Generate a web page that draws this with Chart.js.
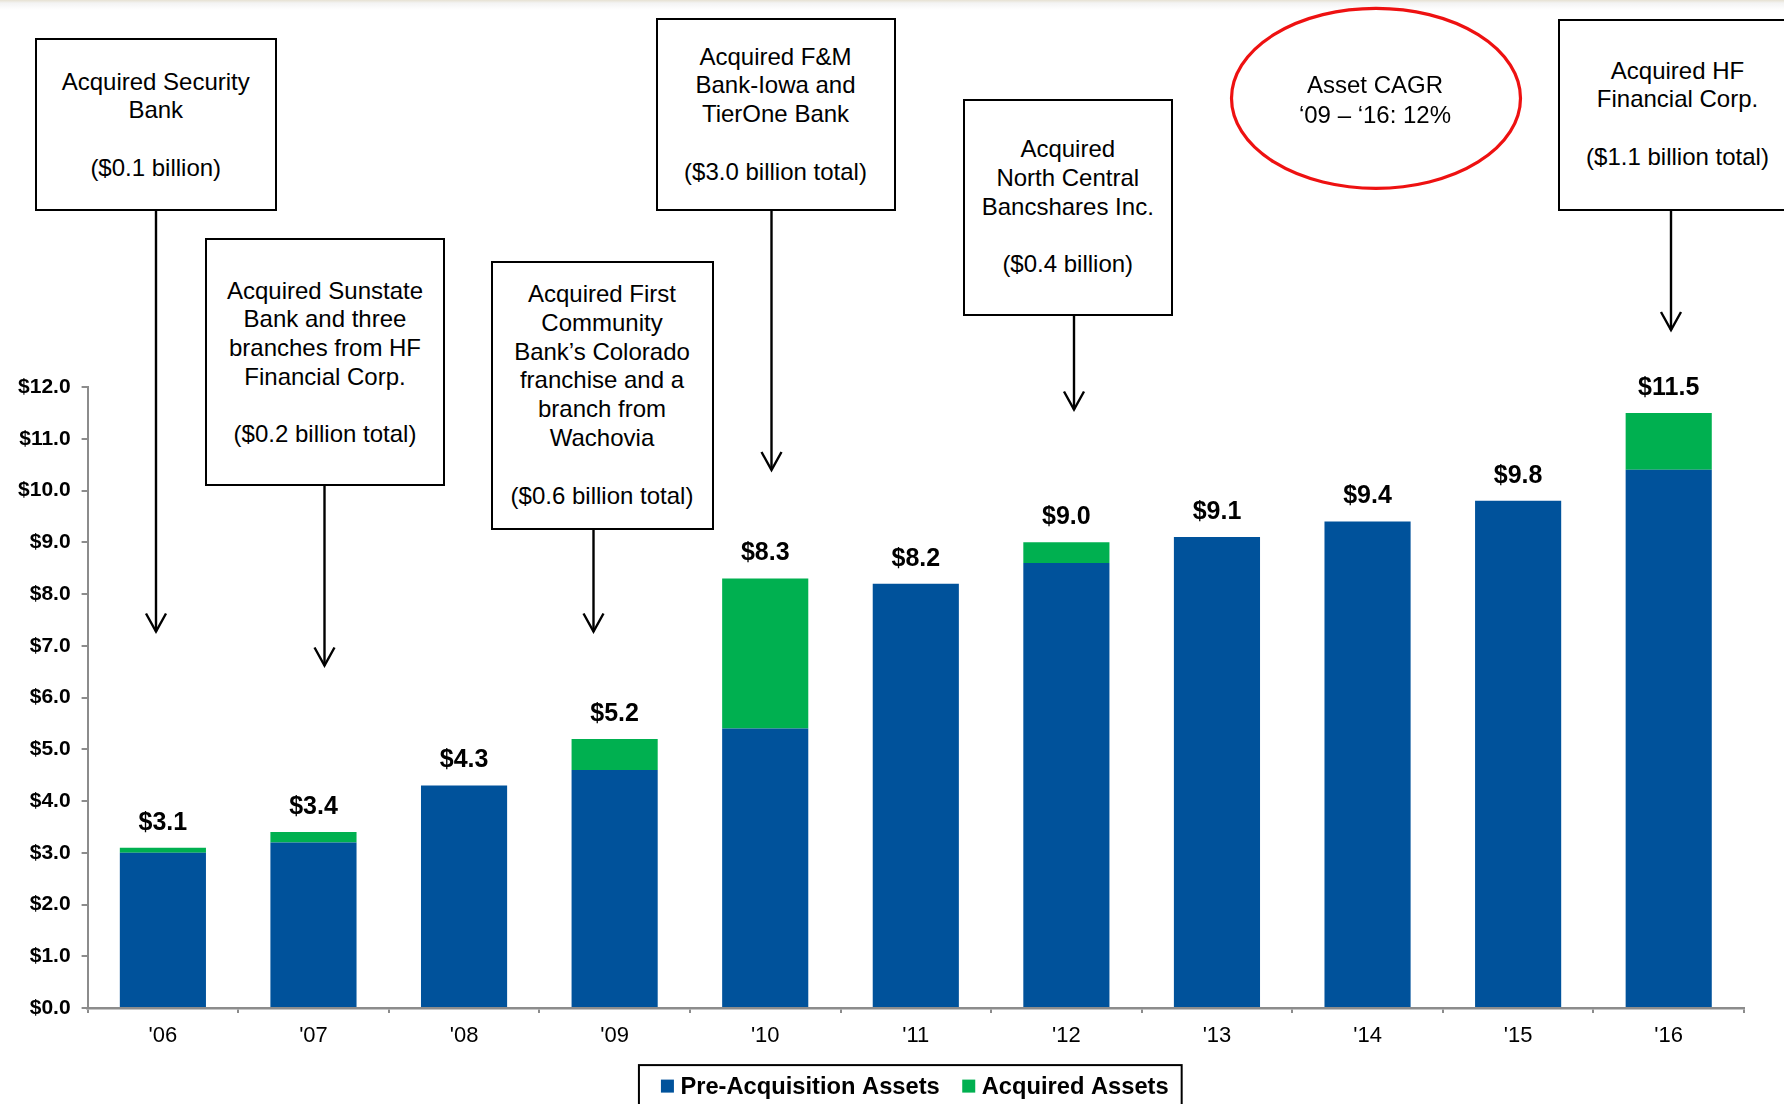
<!DOCTYPE html>
<html><head><meta charset="utf-8">
<script src="https://cdn.jsdelivr.net/npm/chart.js@4.4.0/dist/chart.umd.min.js"></script>
<style>
html,body{margin:0;padding:0;background:#fff;width:1784px;height:1104px;overflow:hidden;font-family:"Liberation Sans",Arial,sans-serif;}
#wrap{position:relative;width:1784px;height:1104px;overflow:hidden;}
#c{position:absolute;left:0;top:0;}
.topband{position:absolute;left:0;top:0;width:1784px;height:10px;background:linear-gradient(#e6e1d2 0,#f3f3f3 30%,#fff 100%);}
.box{position:absolute;box-sizing:border-box;border:2.5px solid #000;background:#fff;text-align:center;font-size:24px;line-height:28.8px;color:#000;white-space:nowrap;}
.ell{position:absolute;text-align:center;font-size:24px;line-height:29.5px;color:#000;white-space:nowrap;}
svg{position:absolute;left:0;top:0;}
</style>
</head><body>
<div id="wrap">
<canvas id="c" width="1784" height="1104"></canvas>
<div class="topband"></div>
<svg width="1784" height="1104" id="ov"></svg>
<div class="box" style="left:35px;top:37.5px;width:241.5px;height:173px;padding-top:28px">Acquired Security<br>Bank<br><br>($0.1 billion)</div>
<div class="box" style="left:205px;top:238px;width:240px;height:248px;padding-top:36.5px">Acquired Sunstate<br>Bank and three<br>branches from HF<br>Financial Corp.<br><br>($0.2 billion total)</div>
<div class="box" style="left:490.5px;top:260.5px;width:223px;height:269px;padding-top:17.5px">Acquired First<br>Community<br>Bank’s Colorado<br>franchise and a<br>branch from<br>Wachovia<br><br>($0.6 billion total)</div>
<div class="box" style="left:655.5px;top:18px;width:240px;height:192.5px;padding-top:22.5px">Acquired F&amp;M<br>Bank-Iowa and<br>TierOne Bank<br><br>($3.0 billion total)</div>
<div class="box" style="left:962.5px;top:99px;width:210.5px;height:216.5px;padding-top:34px">Acquired<br>North Central<br>Bancshares Inc.<br><br>($0.4 billion)</div>
<div class="box" style="left:1557.5px;top:19px;width:240px;height:192px;padding-top:35.5px">Acquired HF<br>Financial Corp.<br><br>($1.1 billion total)</div>
<div class="ell" style="left:1275px;top:70px;width:200px">Asset CAGR<br>‘09 – ‘16: 12%</div>
</div>
<script>
const categories = ["'06","'07","'08","'09","'10","'11","'12","'13","'14","'15","'16"];
const preAcquisition = [3.0, 3.2, 4.3, 4.6, 5.4, 8.2, 8.6, 9.1, 9.4, 9.8, 10.4];
const acquired = [0.1, 0.2, 0, 0.6, 2.9, 0, 0.4, 0, 0, 0, 1.1];
const totalLabels = ['$3.1','$3.4','$4.3','$5.2','$8.3','$8.2','$9.0','$9.1','$9.4','$9.8','$11.5'];
const yTickLabels = ['$0.0','$1.0','$2.0','$3.0','$4.0','$5.0','$6.0','$7.0','$8.0','$9.0','$10.0','$11.0','$12.0'];
const seriesNames = ['Pre-Acquisition Assets','Acquired Assets'];
const seriesColors = ['#00529B','#00B050'];

const FONT = '"Liberation Sans", Arial, sans-serif';
const AXIS = '#8c8c8c';

// annotation arrows (x, y start, y end)
const arrows = [[156,210.5,631.5],[324.5,486,665.5],[593.5,529.5,631.5],[771.5,210.5,470],[1074,315.5,409.5],[1671,211,330]];
(function(){
  const svg = document.getElementById('ov');
  let s = '';
  arrows.forEach(a => {
    const [x,y1,y2] = a;
    s += `<line x1="${x}" y1="${y1}" x2="${x}" y2="${y2}" stroke="#000" stroke-width="2.4"/>`;
    s += `<polyline points="${x-10},${y2-18} ${x},${y2} ${x+10},${y2-18}" fill="none" stroke="#000" stroke-width="2.4"/>`;
  });
  s += `<ellipse cx="1376" cy="98.3" rx="144.5" ry="90" fill="none" stroke="#EE1111" stroke-width="3.2"/>`;
  svg.innerHTML = s;
})();

const totalsPlugin = {
  id: 'totals',
  afterDatasetsDraw(chart) {
    const ctx = chart.ctx;
    const xs = chart.scales.x, ys = chart.scales.y;
    ctx.save();
    ctx.font = 'bold 25px ' + FONT;
    ctx.fillStyle = '#000';
    ctx.textAlign = 'center';
    ctx.textBaseline = 'middle';
    categories.forEach((c, i) => {
      const total = preAcquisition[i] + acquired[i];
      ctx.fillText(totalLabels[i], xs.getPixelForValue(i), ys.getPixelForValue(total) - 25);
    });
    ctx.restore();
  }
};

const legendPlugin = {
  id: 'boxLegend',
  afterDraw(chart) {
    const ctx = chart.ctx, ca = chart.chartArea;
    ctx.save();
    ctx.font = 'bold 23.7px ' + FONT;
    const sq = 13, gapT = 6.5, gapI = 22.5, padL = 22, padR = 13;
    const w0 = ctx.measureText(seriesNames[0]).width;
    const w1 = ctx.measureText(seriesNames[1]).width;
    const total = sq + gapT + w0 + gapI + sq + gapT + w1;
    const cx = (ca.left + ca.right) / 2 - 1;
    let x = cx - total / 2;
    const cy = ca.bottom + 79;
    ctx.lineWidth = 2;
    ctx.strokeStyle = '#000';
    ctx.strokeRect(x - padL, cy - 22, total + padL + padR, 80);
    ctx.textBaseline = 'middle';
    ctx.textAlign = 'left';
    ctx.fillStyle = seriesColors[0];
    ctx.fillRect(x, cy - 7.5, sq, sq);
    ctx.fillStyle = '#000';
    ctx.fillText(seriesNames[0], x + sq + gapT, cy);
    x += sq + gapT + w0 + gapI;
    ctx.fillStyle = seriesColors[1];
    ctx.fillRect(x, cy - 7.5, sq, sq);
    ctx.fillStyle = '#000';
    ctx.fillText(seriesNames[1], x + sq + gapT, cy);
    ctx.restore();
  }
};

new Chart(document.getElementById('c'), {
  type: 'bar',
  data: {
    labels: categories,
    datasets: [
      { label: seriesNames[0], data: preAcquisition, backgroundColor: seriesColors[0], borderWidth: 0, categoryPercentage: 1, barPercentage: 0.572 },
      { label: seriesNames[1], data: acquired, backgroundColor: seriesColors[1], borderWidth: 0, categoryPercentage: 1, barPercentage: 0.572 }
    ]
  },
  options: {
    responsive: false,
    animation: false,
    layout: { padding: { left: 0, right: 40, top: 387, bottom: 44.5 } },
    plugins: { legend: { display: false }, tooltip: { enabled: false } },
    scales: {
      x: {
        stacked: true,
        grid: { display: true, drawOnChartArea: false, drawTicks: true, tickLength: 5, color: AXIS, lineWidth: 2, offset: true },
        border: { color: AXIS, width: 2.5 },
        ticks: { font: { family: FONT, size: 22 }, color: '#000', padding: 10 }
      },
      y: {
        stacked: true, min: 0, max: 12,
        afterFit(s) { s.width = 87.6; },
        grid: { drawOnChartArea: false, drawTicks: true, tickLength: 6, color: AXIS, lineWidth: 2 },
        border: { color: AXIS, width: 2 },
        ticks: { stepSize: 1, font: { family: FONT, size: 21, weight: 'bold' }, color: '#000', padding: 11,
                 callback: (v, i) => yTickLabels[i] }
      }
    }
  },
  plugins: [totalsPlugin, legendPlugin]
});
</script>
</body></html>
